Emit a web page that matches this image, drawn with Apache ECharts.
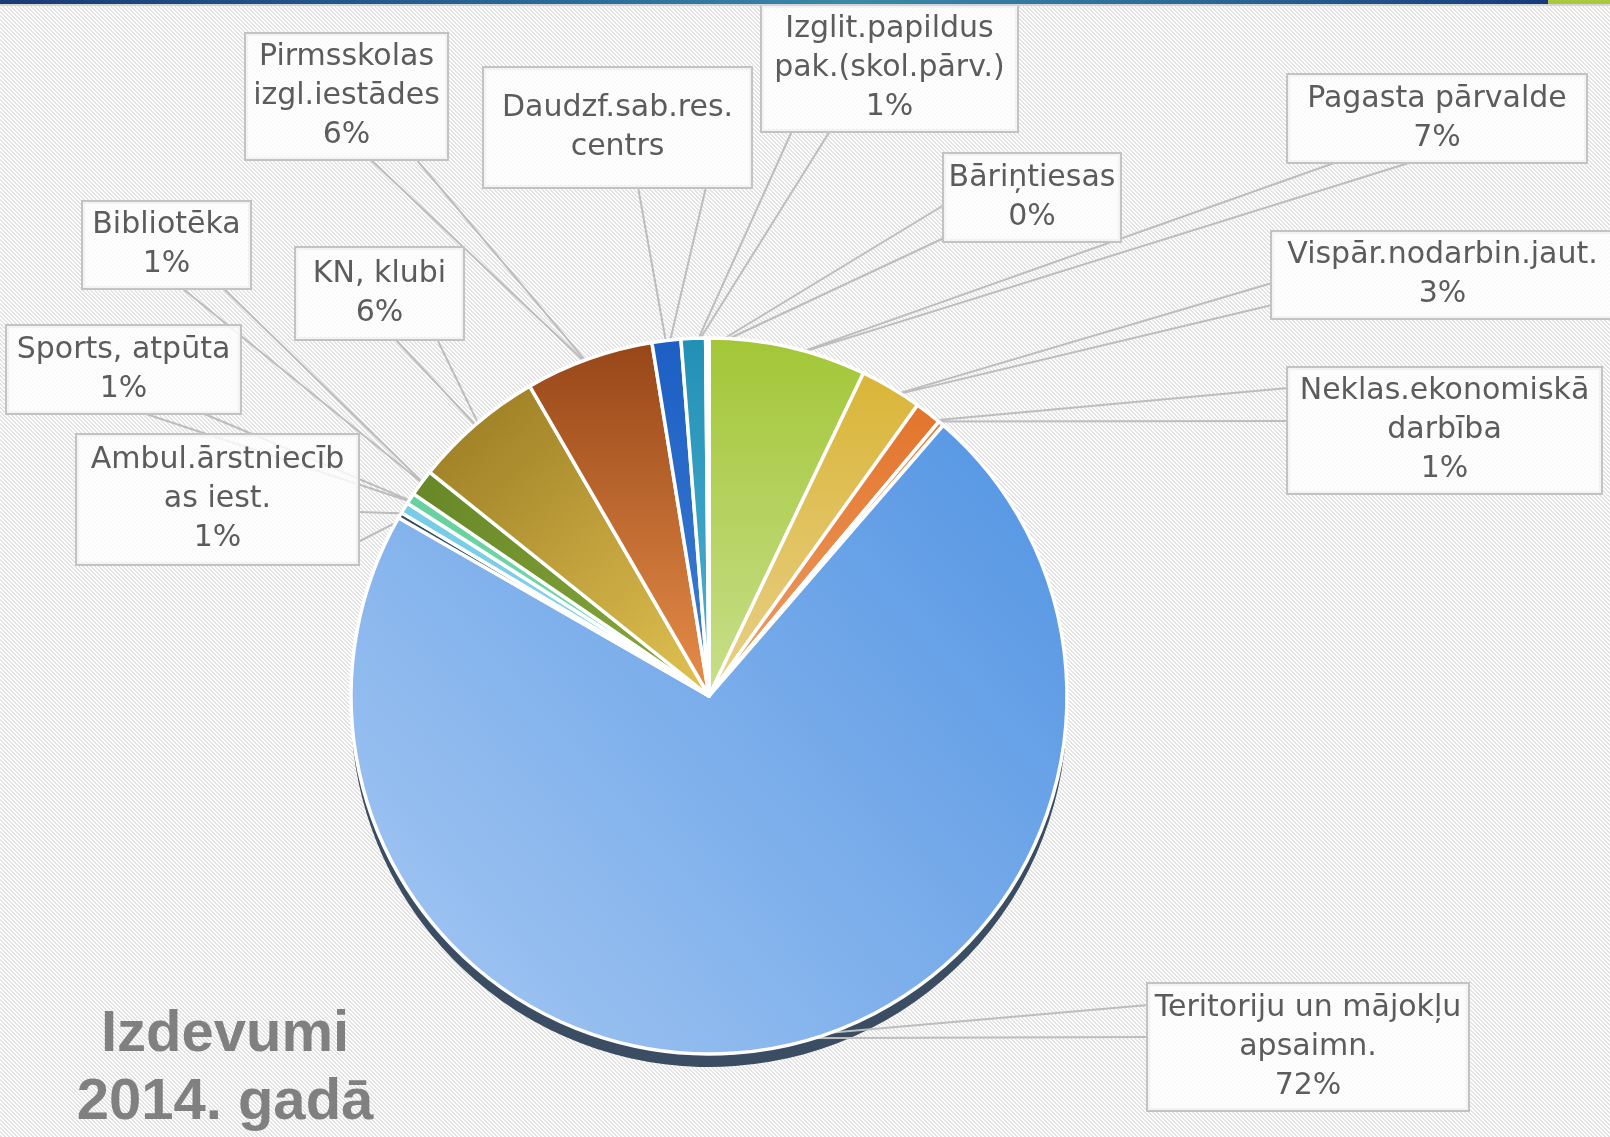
<!DOCTYPE html>
<html><head><meta charset="utf-8">
<script src="https://cdn.jsdelivr.net/npm/echarts@6/dist/echarts.min.js"></script>
<style>
html,body{margin:0;padding:0;width:1610px;height:1137px;overflow:hidden;background:#f1f1f1;}
#topbar{position:absolute;left:0;top:0;width:1548px;height:4px;background:linear-gradient(90deg,#183a76 0%,#2a6c9a 38%,#3a89a8 55%,#2a6896 78%,#163a7a 100%);z-index:2;}
#topgreen{position:absolute;left:1548px;top:0;width:62px;height:4px;background:#a9c93c;z-index:2;}
#topshadow{position:absolute;left:0;top:4px;width:1610px;height:2px;background:#d4d4d4;z-index:2;}
#chart{position:absolute;left:0;top:0;width:1610px;height:1137px;}
</style></head>
<body>
<div id="topbar"></div><div id="topgreen"></div><div id="topshadow"></div>
<div id="chart"></div>
<script>
// ---- data ----
const categories = ['Pagasta pārvalde', 'Vispār.nodarbin.jaut.', 'Neklas.ekonomiskā\ndarbība', '',
  'Teritoriju un mājokļu\napsaimn.', '', 'Ambul.ārstniecīb\nas iest.', 'Sports, atpūta', 'Bibliotēka',
  'KN, klubi', 'Pirmsskolas\nizgl.iestādes', 'Daudzf.sab.res.\ncentrs', 'Izglit.papildus\npak.(skol.pārv.)', 'Bāriņtiesas'];
const values = [7.1, 2.8, 1.2, 0.25, 71.95, 0.25, 0.5, 0.5, 1.2, 5.9, 5.8, 1.3, 1.1, 0.15];
const showLabel = [1, 1, 1, 0, 1, 0, 1, 1, 1, 1, 1, 1, 1, 1];
const showPercent = [1, 1, 1, 0, 1, 0, 1, 1, 1, 1, 1, 0, 1, 1];
const titleText = 'Izdevumi\n2014. gadā';

// ---- layout (label boxes [x0,y0,x1,y1] and callout bases [ax,ay,bx,by]) ----
const labelBoxes = [
  [1288, 75, 1586, 162], [1272, 232, 1613, 318], [1288, 368, 1601, 493], null,
  [1148, 984, 1468, 1110], null, [77, 435, 358, 564], [7, 326, 240, 413], [83, 202, 250, 288],
  [296, 248, 463, 339], [246, 34, 447, 159], [484, 68, 751, 187], [762, 6, 1017, 131], [944, 154, 1120, 241]
];
const calloutBase = [
  [1337, 162, 1412, 162], [1272, 283, 1272, 305], [1288, 388, 1288, 421], null,
  [1148, 1005, 1148, 1037], null, [358, 512, 358, 542], [143, 413, 202, 413], [182, 288, 223, 288],
  [395, 339, 437, 339], [370, 159, 416, 159], [638, 187, 706, 187], [792, 131, 830, 131], [944, 205, 944, 238]
];
// ---- styles ----
const sliceColors = [
  ['#a3c636', '#c8df8c', 0, 0, 0, 1], ['#d9b537', '#e9d089', 0, 0, 0, 1], ['#e2742a', '#ee9f68', 0, 0, 0, 1],
  ['#e5813f', '#eea474', 0, 0, 0, 1], ['#5294e3', '#a7c9f3', 1, 0, 0, 1], ['#2f4d5e', '#3d5c6c', 0, 0, 1, 0],
  ['#76cbe6', '#8ad6ee', 0, 0, 1, 0], ['#66d09e', '#7cdcb0', 0, 0, 1, 0], ['#678626', '#8aab3f', 0, 0, 1, 0],
  ['#977820', '#e2c353', 0, 0, 1, 1], ['#974618', '#e88e4a', 0, 0, 0, 1], ['#1c5ec2', '#3f7fd6', 0, 0, 0, 1],
  ['#2190b5', '#52b2d2', 0, 0, 0, 1], ['#b0b0b0', '#b0b0b0', 0, 0, 0, 1]
];
const CX = 709, CY = 696, R = 358, LH = 39;

// striped background (pixel-aligned diagonal pattern)
(function () {
  const c = document.createElement('canvas');
  c.width = 4; c.height = 4;
  const g = c.getContext('2d');
  const img = g.createImageData(4, 4);
  for (let y = 0; y < 4; y++) for (let x = 0; x < 4; x++) {
    const k = ((x - y) % 4 + 4) % 4;
    const v = (k === 0 || k === 1) ? 226 : 255;
    const o = (y * 4 + x) * 4;
    img.data[o] = v; img.data[o + 1] = v; img.data[o + 2] = v; img.data[o + 3] = 255;
  }
  g.putImageData(img, 0, 0);
  document.body.style.backgroundImage = 'url(' + c.toDataURL() + ')';
  document.body.style.backgroundRepeat = 'repeat';
})();

const chart = echarts.init(document.getElementById('chart'), null, {renderer: 'canvas'});

function fmt(i, pct) {
  return categories[i] + (showPercent[i] ? '\n' + pct + '%' : '');
}
function lineCount(i) {
  return categories[i].split('\n').length + (showPercent[i] ? 1 : 0);
}

const mainData = values.map((v, i) => {
  const c = sliceColors[i];
  const b = labelBoxes[i];
  const item = {
    name: categories[i] || ('_' + i),
    value: v,
    itemStyle: {
      color: {type: 'linear', x: c[2], y: c[3], x2: c[4], y2: c[5],
        colorStops: [{offset: 0, color: c[0]}, {offset: 1, color: c[1]}]}
    }
  };
  if (showLabel[i] && b) {
    const h = b[3] - b[1];
    const pv = (h - lineCount(i) * LH) / 2;
    item.label = {show: true, width: b[2] - b[0], padding: [pv, 0, pv, 0]};
    item.labelLine = {show: true};
  } else {
    item.label = {show: false};
    item.labelLine = {show: false};
  }
  return item;
});

const option = {
  animation: false,
  backgroundColor: 'transparent',
  graphic: [{
    type: 'text', x: 225, y: 1001, silent: true,
    style: {
      text: titleText, align: 'center', verticalAlign: 'top', textAlign: 'center', textVerticalAlign: 'top',
      fontFamily: 'Liberation Sans', fontWeight: 'bold', fontSize: 58, lineHeight: 68, fill: '#808080'
    }
  }],
  series: [
    {
      type: 'pie', silent: true, z: 1,
      center: [CX, CY + 13], radius: R, startAngle: 90, clockwise: true,
      label: {show: false}, labelLine: {show: false},
      itemStyle: {color: '#3b4d63', borderWidth: 0},
      data: values.map((v, i) => ({name: 's' + i, value: v}))
    },
    {
      type: 'pie', z: 2,
      center: [CX, CY], radius: R, startAngle: 90, clockwise: true,
      avoidLabelOverlap: false,
      percentPrecision: 0,
      itemStyle: {borderColor: '#ffffff', borderWidth: 3.5},
      label: {
        show: true, position: 'outside', overflow: 'none',
        formatter: p => fmt(p.dataIndex, p.percent),
        color: '#5c5c5c', fontFamily: 'DejaVu Sans', fontSize: 30, lineHeight: LH, align: 'center',
        backgroundColor: 'rgba(255,255,255,0.8)', borderColor: '#c3c3c3', borderWidth: 2
      },
      labelLine: {show: true, smooth: false, lineStyle: {color: '#bdbdbd', width: 2}},
      emphasis: {disabled: true},
      labelLayout: function (p) {
        const i = p.dataIndex;
        const b = labelBoxes[i];
        const cb = calloutBase[i];
        if (!b) return {};
        let tip = null;
        try {
          const lay = chart.getModel().getSeriesByIndex(p.seriesIndex).getData().getItemLayout(i);
          const mid = (lay.startAngle + lay.endAngle) / 2;
          tip = [lay.cx + lay.r * 0.97 * Math.cos(mid), lay.cy + lay.r * 0.97 * Math.sin(mid)];
        } catch (e) {
          if (p.labelLinePoints) tip = p.labelLinePoints[0];
        }
        const res = {
          x: (b[0] + b[2]) / 2, y: b[1], align: 'center', verticalAlign: 'top', width: b[2] - b[0]
        };
        if (tip && cb) res.labelLinePoints = [[cb[0], cb[1]], tip, [cb[2], cb[3]]];
        return res;
      },
      data: mainData
    }
  ]
};
chart.setOption(option);
</script>
</body></html>
